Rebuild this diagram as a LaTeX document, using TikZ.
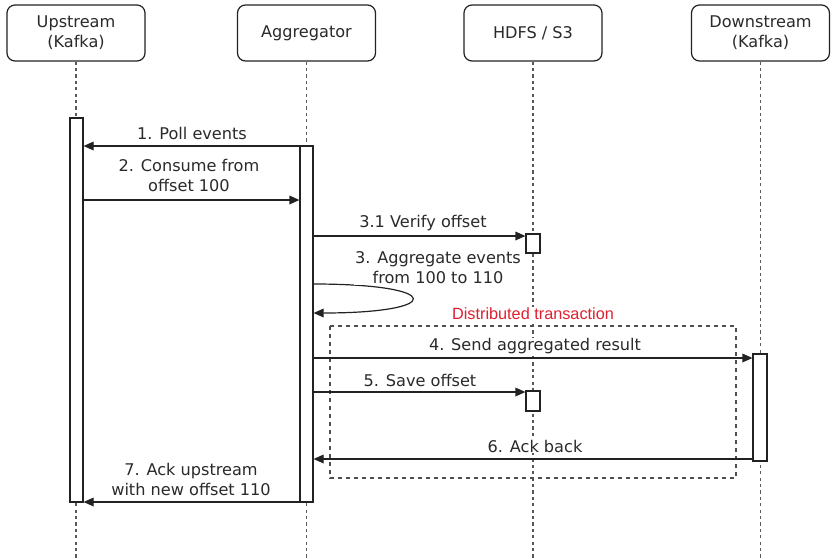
\documentclass[tikz,border=0pt]{standalone}
\usepackage{fontspec}
\setmainfont{DejaVu Sans}
\newfontfamily\redfont{Liberation Sans}
\usetikzlibrary{arrows.meta}
\definecolor{ink}{HTML}{222222}
\definecolor{txt}{HTML}{2A2A2A}
\definecolor{dtred}{HTML}{E02030}
\begin{document}
\begin{tikzpicture}[x=0.75pt,y=-0.75pt,
  every node/.style={font=\fontsize{12.1}{15}\selectfont, text=txt},
  part/.style={draw=ink, line width=0.9pt, rounded corners=6pt, minimum width=103.5pt, minimum height=42pt, align=center, inner sep=0pt, fill=white},
  act/.style={draw=ink, line width=0.9pt, fill=white, minimum width=9.75pt, inner sep=0pt},
  life/.style={draw=ink!75, line width=1pt, dash pattern=on 2.4pt off 2.4pt},
  msg/.style={draw=ink, line width=0.9pt, -{Triangle[length=7.5pt,width=6.5pt]}},
  lbl/.style={align=center, inner sep=0.5pt, fill=white}
]
\useasboundingbox (0,0) rectangle (836,558);
% participants
\node[part] (up) at (76,33) {Upstream\\(Kafka)};
\node[part] (agg) at (306.5,33) {Aggregator};
\node[part] (hdfs) at (533,33) {HDFS / S3};
\node[part] (down) at (760.5,33) {Downstream\\(Kafka)};
% lifeline ends
\coordinate (upE) at (76,558);
\coordinate (aggE) at (306.5,558);
\coordinate (hdfsE) at (533,558);
\coordinate (downE) at (760.5,558);
\draw[life] (up.south) -- (upE);
\draw[life] (agg.south) -- (aggE);
\draw[life] (hdfs.south) -- (hdfsE);
\draw[life] (down.south) -- (downE);
% distributed transaction frame
\coordinate (fa) at (330,326);
\coordinate (fb) at (736,478);
\draw[draw=ink!80, line width=0.9pt, dash pattern=on 3pt off 3pt] (fa) rectangle (fb);
\node[lbl, text=dtred, font=\redfont\fontsize{12.2}{14}\selectfont] (dt) at (533,314) {Distributed transaction};
% activations
\node[act, minimum height=288pt] (upA) at (76.5,310) {};
\node[act, minimum height=267pt] (aggA) at (306.5,324) {};
\node[act, minimum width=10.5pt, minimum height=14.25pt] (h1) at (533,243.5) {};
\node[act, minimum width=10.5pt, minimum height=15pt] (h2) at (533,401) {};
\node[act, minimum width=10.5pt, minimum height=80.25pt] (dA) at (760,407.5) {};
% y levels
\coordinate (y1) at (0,146);
\coordinate (y2) at (0,200);
\coordinate (y31) at (0,236);
\coordinate (y3a) at (0,284);
\coordinate (y3b) at (0,313);
\coordinate (y4) at (0,358);
\coordinate (y5) at (0,392);
\coordinate (y6) at (0,459);
\coordinate (y7) at (0,502);
% messages
\draw[msg] (aggA.west |- y1) -- (upA.east |- y1);
\node[lbl] (l1) at (192,133) {1. Poll events};
\draw[msg] (upA.east |- y2) -- (aggA.west |- y2);
\node[lbl] (l2) at (189,175) {2. Consume from\\offset 100};
\draw[msg] (aggA.east |- y31) -- (h1.west |- y31);
\node[lbl] (l31) at (423,223) {3.1 Verify offset};
\draw[msg] (aggA.east |- y3a) .. controls (445,284) and (445,313) .. (aggA.east |- y3b);
\node[lbl] (l3) at (438,268) {3. Aggregate events\\from 100 to 110};
\draw[msg] (aggA.east |- y4) -- (dA.west |- y4);
\node[lbl] (l4) at (535,346) {4. Send aggregated result};
\draw[msg] (aggA.east |- y5) -- (h2.west |- y5);
\node[lbl] (l5) at (420,380) {5. Save offset};
\draw[msg] (dA.west |- y6) -- (aggA.east |- y6);
\node[lbl] (l6) at (535,446) {6. Ack back};
\draw[msg] (aggA.west |- y7) -- (upA.east |- y7);
\node[lbl] (l7) at (191,479) {7. Ack upstream\\with new offset 110};
\end{tikzpicture}
\end{document}
